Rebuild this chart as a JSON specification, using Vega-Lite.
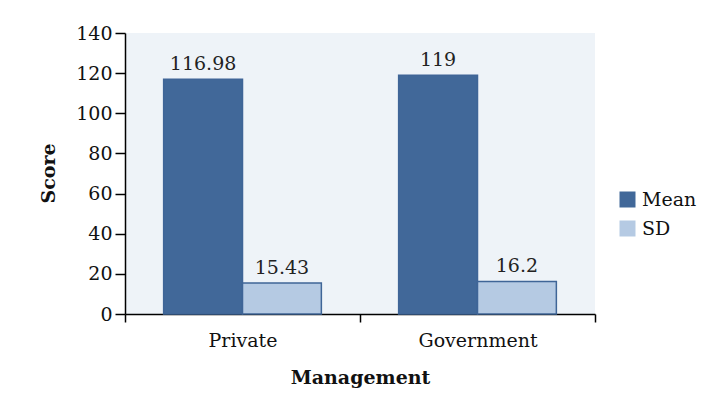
{
  "$schema": "https://vega.github.io/schema/vega-lite/v6.json",
  "width": 470,
  "height": 281,
  "autosize": {"type": "none"},
  "padding": {"left": 125, "top": 33, "right": 107, "bottom": 93},
  "background": "white",
  "config": {
    "view": {"fill": "#eef3f8", "stroke": null},
    "font": "DejaVu Serif"
  },
  "data": {
    "values": [
      {"Management": "Private", "Stat": "Mean", "Score": 116.98, "Label": "116.98"},
      {"Management": "Private", "Stat": "SD", "Score": 15.43, "Label": "15.43"},
      {"Management": "Government", "Stat": "Mean", "Score": 119, "Label": "119"},
      {"Management": "Government", "Stat": "SD", "Score": 16.2, "Label": "16.2"}
    ]
  },
  "encoding": {
    "x": {
      "field": "Management",
      "type": "nominal",
      "sort": ["Private", "Government"],
      "scale": {"paddingInner": 0, "paddingOuter": 0},
      "axis": {
        "title": "Management",
        "labelAngle": 0,
        "tickBand": "extent",
        "tickSize": 8,
        "tickColor": "#000",
        "domainColor": "#000",
        "domainWidth": 1.5,
        "tickWidth": 1.5,
        "labelFontSize": 19,
        "labelColor": "#111",
        "labelPadding": 9,
        "titleFontSize": 19,
        "titleFontWeight": "bold",
        "titleColor": "#111",
        "titlePadding": 18
      }
    },
    "xOffset": {
      "field": "Stat",
      "type": "nominal",
      "sort": ["Mean", "SD"],
      "scale": {"paddingInner": 0, "paddingOuter": 0.49}
    },
    "y": {
      "field": "Score",
      "type": "quantitative",
      "scale": {"domain": [0, 140]},
      "axis": {
        "title": "Score",
        "values": [0, 20, 40, 60, 80, 100, 120, 140],
        "grid": false,
        "tickSize": 10,
        "tickColor": "#000",
        "domainColor": "#000",
        "domainWidth": 1.5,
        "tickWidth": 1.5,
        "labelFontSize": 19,
        "labelColor": "#111",
        "labelPadding": 3,
        "titleFontSize": 19,
        "titleFontWeight": "bold",
        "titleColor": "#111",
        "titleX": -77,
        "titleY": 140,
        "titleAngle": -90,
        "titleAlign": "center",
        "titleBaseline": "middle"
      }
    }
  },
  "layer": [
    {
      "mark": {"type": "bar", "stroke": "#3f6597", "strokeWidth": 1.5},
      "encoding": {
        "color": {
          "field": "Stat",
          "type": "nominal",
          "scale": {"domain": ["Mean", "SD"], "range": ["#416899", "#b5cae3"]},
          "legend": {
            "title": null,
            "orient": "none",
            "legendX": 493,
            "legendY": 157,
            "symbolType": "square",
            "symbolSize": 256,
            "symbolStrokeWidth": 0,
            "labelFontSize": 19,
            "labelColor": "#111",
            "labelOffset": 5,
            "rowPadding": 9
          }
        }
      }
    },
    {
      "mark": {"type": "text", "dy": -15, "fontSize": 19, "color": "#222"},
      "encoding": {"text": {"field": "Label", "type": "nominal"}}
    }
  ]
}
